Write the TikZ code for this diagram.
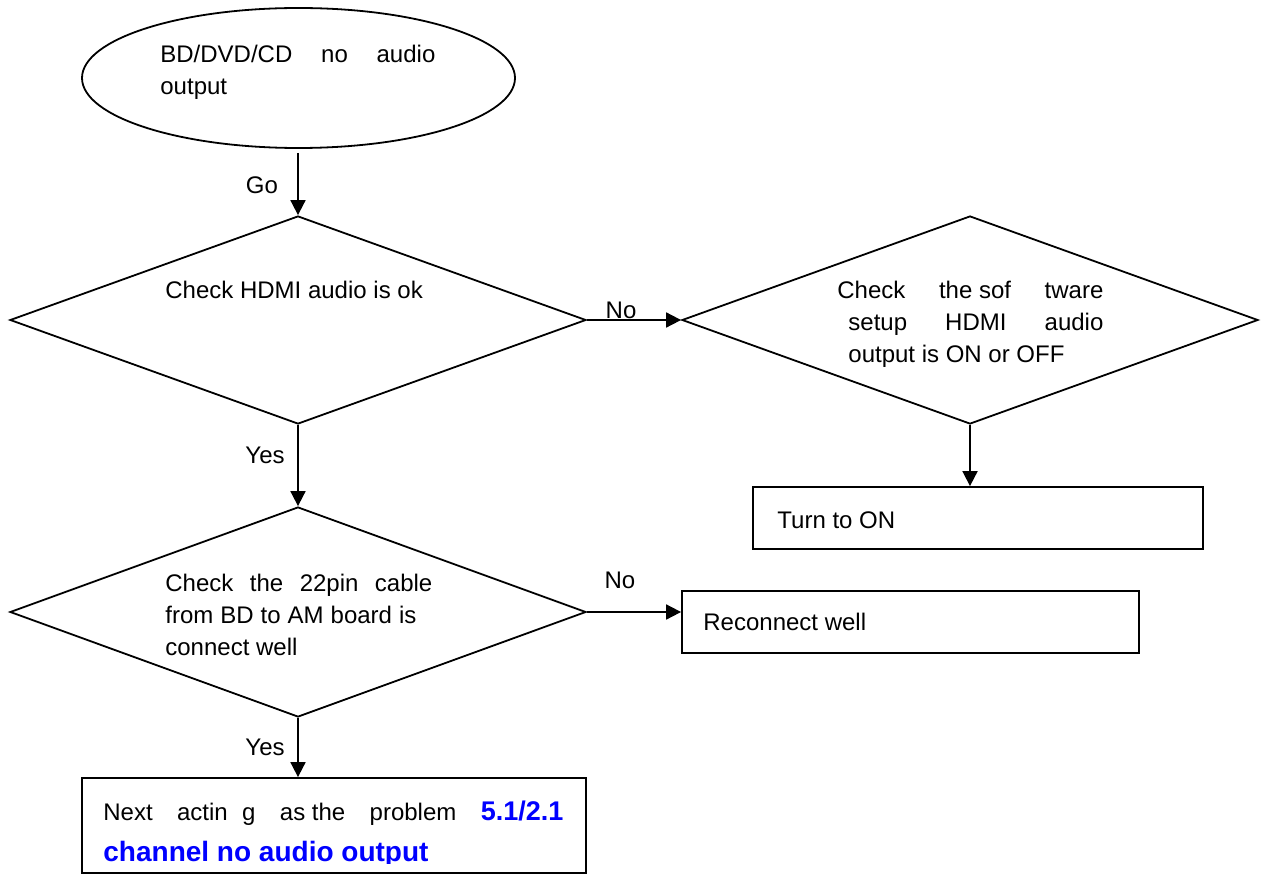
\documentclass[tikz,border=0pt]{standalone}
\usepackage{fontspec}
\setmainfont{Liberation Sans}
\usetikzlibrary{shapes.geometric,arrows.meta}
\definecolor{linkblue}{RGB}{0,0,255}
\begin{document}
\begin{tikzpicture}[x=0.5pt,y=-0.5pt,
  every node/.style={font=\fontsize{12}{16}\selectfont},
  arr/.style={line width=0.9pt,-{Triangle[length=7.5pt,width=7.5pt]}},
  dia/.style={draw,line width=0.9pt,diamond,inner sep=0pt,minimum width=288pt,minimum height=104pt},
  boxx/.style={draw,line width=0.9pt,rectangle,inner sep=0pt},
  txt/.style={inner sep=0pt,anchor=west,align=left},
  lbl/.style={inner sep=0pt},
  blue14/.style={font=\fontsize{14}{16}\selectfont\bfseries,text=linkblue}]
\useasboundingbox[fill=white] (0,0) rectangle (1261,877);
% shapes
\node[draw,line width=0.9pt,ellipse,inner sep=0pt,minimum width=216.5pt,minimum height=70pt] (start) at (298.5,78) {};
\node[dia] (d1) at (298,320) {};
\node[dia] (d2) at (970,320) {};
\node[dia,minimum height=105pt] (d3) at (298,612) {};
\node[boxx,minimum width=225pt,minimum height=31pt] (turn) at (978,518) {};
\node[boxx,minimum width=228.5pt,minimum height=31pt] (rec) at (910.5,622) {};
\node[boxx,minimum width=252pt,minimum height=47.5pt] (next) at (334,825.5) {};
% texts
\node[txt] (t0) at (160,72) {\makebox[137.5pt][s]{BD/DVD/CD\hfill no\hfill audio}\\output};
\node[txt] (t1) at (165,290) {Check HDMI audio is ok};
\node[txt] (t2) at (837,324) {\makebox[133pt][s]{Check\hfill the sof\hfill tware}\\
  \hspace*{5.5pt}\makebox[127.5pt][s]{setup\hfill HDMI\hfill audio}\\
  \hspace*{5.5pt}output is ON or OFF};
\node[txt] (t3) at (165,615) {\makebox[133.5pt][s]{Check\hfill the\hfill 22pin\hfill cable}\\
  \makebox[125.5pt][s]{from\hfill BD\hfill to\hfill AM\hfill board\hfill is}\\
  connect well};
\node[txt] (t4) at (777,520) {Turn to ON};
\node[txt] (t5) at (703,622) {Reconnect well};
\node[inner sep=0pt,anchor=base west] (t6) at (103,820.5) {\makebox[230pt][s]{Next\hfill actin\hspace{0.6em}g\hfill as the\hfill problem\hfill \textcolor{linkblue}{\fontsize{13.5}{16}\selectfont\bfseries 5.1/2.1}}};
\begin{scope}
  \clip (84,840) rectangle (584,863);
  \node[inner sep=0pt,anchor=base west,blue14] (t7) at (103,861.5) {channel no audio output};
\end{scope}
% connectors
\coordinate (s0) at (298,153);
\draw[arr] (s0) -- (d1.north);
\draw[arr] (d1.east) -- (d2.west);
\draw[arr] (d2.south) -- (d2.south |- turn.north);
\draw[arr] (d1.south) -- (d3.north);
\draw[arr] (d3.east) -- (d3.east -| rec.west);
\draw[arr] (d3.south) -- (d3.south |- next.north);
% connector labels
\node[lbl] (go) at (262,185) {Go};
\node[lbl] (no1) at (621,310) {No};
\node[lbl] (yes1) at (265,455) {Yes};
\node[lbl] (no2) at (620,580) {No};
\node[lbl] (yes2) at (265,747) {Yes};
\end{tikzpicture}
\end{document}
